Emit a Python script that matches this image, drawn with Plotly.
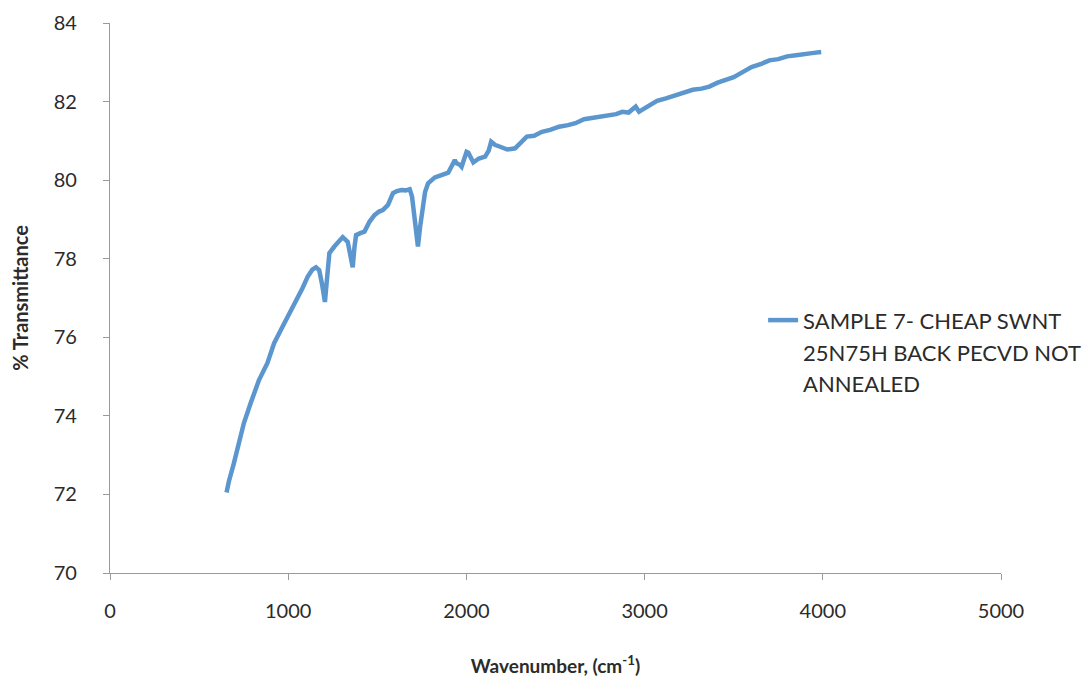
import plotly.graph_objects as go

wavenumber = [654, 667, 695, 723, 751, 789, 836, 883, 921, 968, 1010, 1052, 1080, 1109, 1135, 1156,
              1174, 1190, 1206, 1218, 1231, 1259, 1285, 1306, 1334, 1348, 1362, 1372, 1381, 1405,
              1428, 1456, 1484, 1510, 1531, 1560, 1588, 1610, 1635, 1660, 1682, 1695, 1710, 1728,
              1740, 1751, 1768, 1785, 1823, 1860, 1898, 1935, 1945, 1963, 1973, 2001, 2011, 2039,
              2070, 2105, 2125, 2139, 2160, 2189, 2230, 2273, 2300, 2339, 2380, 2424, 2470, 2520,
              2570, 2612, 2660, 2700, 2750, 2800, 2840, 2875, 2910, 2950, 2969, 2990, 3025, 3070,
              3120, 3175, 3220, 3270, 3320, 3363, 3410, 3457, 3500, 3550, 3600, 3650, 3700, 3750,
              3800, 3850, 3900, 3950, 3991]
transmittance = [72.05, 72.33, 72.79, 73.30, 73.81, 74.32, 74.91, 75.34, 75.85, 76.27, 76.62, 76.98,
                 77.25, 77.54, 77.72, 77.78, 77.71, 77.35, 76.90, 77.50, 78.14, 78.31, 78.45, 78.55,
                 78.43, 78.10, 77.78, 78.30, 78.60, 78.65, 78.69, 78.94, 79.11, 79.20, 79.24, 79.37,
                 79.67, 79.72, 79.75, 79.74, 79.77, 79.58, 79.00, 78.31, 78.80, 79.24, 79.70, 79.92,
                 80.07, 80.13, 80.19, 80.51, 80.43, 80.39, 80.34, 80.72, 80.70, 80.45, 80.55, 80.60,
                 80.75, 80.98, 80.90, 80.85, 80.78, 80.81, 80.95, 81.11, 81.13, 81.23, 81.28, 81.36,
                 81.40, 81.45, 81.55, 81.58, 81.63, 81.66, 81.68, 81.74, 81.72, 81.87, 81.74, 81.80,
                 81.91, 82.02, 82.08, 82.17, 82.22, 82.30, 82.33, 82.38, 82.48, 82.55, 82.62, 82.75,
                 82.88, 82.95, 83.05, 83.08, 83.15, 83.18, 83.22, 83.24, 83.26]

series_name_lines = ["SAMPLE 7- CHEAP SWNT", "25N75H BACK PECVD NOT", "ANNEALED"]
x_ticks = [0, 1000, 2000, 3000, 4000, 5000]
y_ticks = [70, 72, 74, 76, 78, 80, 82, 84]

legend_text = "<br>".join('<span style="font-size:22px">%s</span>' % s for s in series_name_lines)

fig = go.Figure()
fig.add_trace(go.Scatter(
    x=wavenumber, y=transmittance, mode="lines", name=legend_text,
    line=dict(color="#5B96CF", width=4.5), showlegend=True,
))

axis_font = dict(family="Lato, Open Sans, sans-serif", size=20, color="#2b2b2b")
fig.update_layout(
    width=1090, height=683,
    margin=dict(l=102, r=93, t=15, b=118),
    paper_bgcolor="white", plot_bgcolor="white",
    font=axis_font,
    showlegend=True,
    legend=dict(x=0.733, y=0.50, xanchor="left", yanchor="top", valign="top",
                font=dict(family="Lato, Open Sans, sans-serif", size=24, color="#2b2b2b"),
                bgcolor="rgba(0,0,0,0)"),
    xaxis=dict(range=[0, 5000], tickvals=x_ticks, showgrid=False, zeroline=False,
               showline=True, linecolor="#9a9a9a", linewidth=1.2, automargin=False,
               ticks="outside", ticklen=6, tickcolor="#9a9a9a", ticklabelstandoff=14,
               title=dict(text="<b>Wavenumber, (cm<sup>-1</sup>)</b>", font=dict(size=19), standoff=38)),
    yaxis=dict(range=[70, 84], tickvals=y_ticks, showgrid=False, zeroline=False,
               showline=True, linecolor="#9a9a9a", linewidth=1.2, automargin=False,
               ticks="outside", ticklen=6, tickcolor="#9a9a9a", ticklabelstandoff=22,
               title=dict(text="<b>% Transmittance</b>", font=dict(size=20), standoff=22)),
)

fig.write_html("out.html")
